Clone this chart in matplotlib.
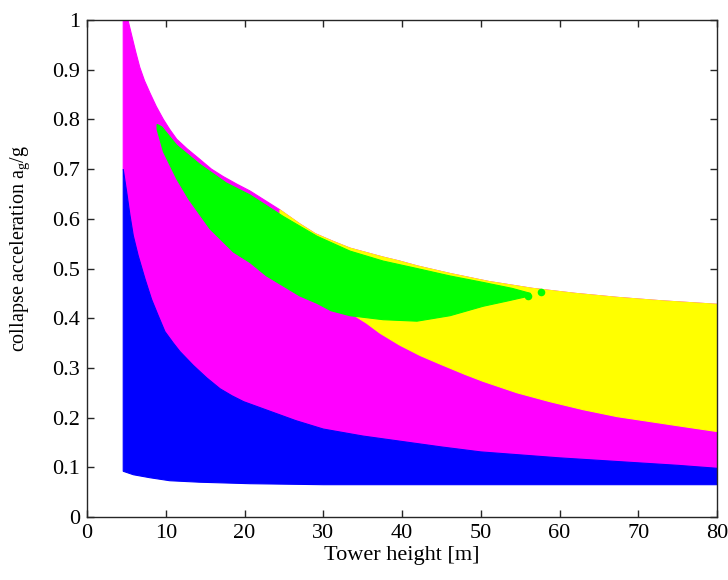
import numpy as np
import matplotlib
matplotlib.use("Agg")
import matplotlib.pyplot as plt

plt.rcParams.update({"font.family": "serif", "font.serif": ["Liberation Serif", "DejaVu Serif"],
    "font.size": 16, "mathtext.fontset": "custom", "mathtext.rm": "Liberation Serif",
    "mathtext.it": "Liberation Serif:italic"})

# outer (upper) envelope of all feasible points
env_x = [4.6, 5.2, 5.66, 6.2, 6.7, 7.3, 8.0, 8.8, 9.7, 10.5, 11.4, 12.7, 14.3, 15.8, 17.3, 19.0, 20.7,
         22.5, 24.5, 27.0, 29.0, 31.2, 33.4, 35.5, 37.6, 39.7, 42.0, 46.1, 51.0, 56.6, 62.0, 67.3, 73.0, 80.0]
env_y = [1.0, 1.0, 0.97, 0.935, 0.905, 0.878, 0.853, 0.826, 0.80, 0.78, 0.76, 0.741, 0.72, 0.70, 0.685, 0.67, 0.656,
         0.638, 0.618, 0.59, 0.57, 0.555, 0.541, 0.532, 0.523, 0.515, 0.505, 0.49, 0.474, 0.46, 0.45, 0.442, 0.435, 0.428]

# blue band (lowest mechanism)
blue_top_x = [4.6, 5.04, 5.46, 5.88, 6.5, 7.37, 8.2, 9.05, 9.9, 10.96, 11.8, 13.5, 15.2, 16.9, 18.4, 19.9,
              23.2, 26.5, 30.0, 35.0, 40.0, 45.0, 50.0, 55.0, 60.0, 65.0, 70.0, 75.0, 80.0]
blue_top_y = [0.70, 0.654, 0.607, 0.566, 0.526, 0.479, 0.438, 0.405, 0.373, 0.350, 0.333, 0.305, 0.280, 0.258, 0.244, 0.232,
              0.213, 0.194, 0.177, 0.163, 0.152, 0.141, 0.131, 0.125, 0.119, 0.114, 0.109, 0.104, 0.098]
blue_bot_x = [4.6, 5.9, 8.0, 10.5, 14.3, 20.7, 30.0, 80.0]
blue_bot_y = [0.092, 0.085, 0.079, 0.073, 0.070, 0.067, 0.065, 0.065]

# yellow band: lower edge (upper edge of magenta for tall towers) and upper edge
yel_bot_x = [24.5, 30.0, 33.5, 35.5, 37.2, 39.7, 42.3, 44.8, 48.0, 50.3, 54.6, 58.8, 63.0, 67.3, 71.5, 75.7, 80.0]
yel_bot_y = [0.55, 0.47, 0.41, 0.39, 0.37, 0.346, 0.325, 0.308, 0.287, 0.273, 0.25, 0.232, 0.216, 0.202, 0.192, 0.182, 0.172]
yel_top_x = [24.5, 27.0, 29.0, 31.2, 33.4, 35.5, 37.6, 39.7, 42.0, 46.1, 51.0, 56.6, 62.0, 67.3, 73.0, 80.0]
yel_top_y = [0.618, 0.59, 0.57, 0.555, 0.541, 0.532, 0.523, 0.515, 0.505, 0.49, 0.474, 0.46, 0.45, 0.442, 0.435, 0.428]

# green island
grn_top_x = [8.9, 9.5, 11.4, 14.3, 17.7, 20.7, 24.9, 29.2, 33.4, 37.6, 41.9, 46.1, 50.3, 54.0, 56.3]
grn_top_y = [0.79, 0.785, 0.748, 0.71, 0.672, 0.648, 0.605, 0.565, 0.535, 0.515, 0.50, 0.485, 0.472, 0.46, 0.45]
grn_bot_x = [8.9, 9.7, 11.4, 12.9, 15.6, 18.6, 20.7, 22.8, 24.9, 27.0, 29.2, 31.0, 33.4, 37.6, 41.9, 46.1, 50.3, 53.5, 56.3]
grn_bot_y = [0.78, 0.735, 0.68, 0.64, 0.58, 0.533, 0.512, 0.485, 0.465, 0.445, 0.43, 0.415, 0.405, 0.397, 0.394, 0.405, 0.424, 0.435, 0.445]
grn_dot_x = [56.0, 57.7]
grn_dot_y = [0.444, 0.452]

def band(ax, xt, yt, xb, yb, col, z):
    ax.fill(np.r_[xt, xb[::-1]], np.r_[yt, yb[::-1]], color=col, lw=0.8, ec=col, zorder=z)

fig = plt.figure(figsize=(7.28, 5.80), dpi=100)
ax = fig.add_axes([87/728, 1-517/580, 630/728, 497/580])

band(ax, env_x, env_y, blue_top_x, blue_top_y, "#ff00ff", 2)
band(ax, yel_top_x, yel_top_y, yel_bot_x, yel_bot_y, "#ffff00", 3)
band(ax, grn_top_x, grn_top_y, grn_bot_x, grn_bot_y, "#00ff00", 4)
ax.scatter(grn_dot_x, grn_dot_y, s=30, color="#00ff00", lw=0, zorder=4)
band(ax, blue_top_x, blue_top_y, blue_bot_x, blue_bot_y, "#0000ff", 5)

ax.set_xlim(0, 80); ax.set_ylim(0, 1)
ax.set_xticks(range(0, 81, 10))
ax.set_yticks(np.arange(0, 1.01, 0.1))
ax.set_yticklabels(["0", "0.1", "0.2", "0.3", "0.4", "0.5", "0.6", "0.7", "0.8", "0.9", "1"])
ax.tick_params(direction="in", top=True, right=True, length=5, width=1, color="#262626", pad=5)
for s in ax.spines.values():
    s.set_color("#262626"); s.set_linewidth(1); s.set_zorder(6)
ax.set_xlabel("Tower height [m]", labelpad=2)
ax.set_ylabel(r"collapse acceleration a$_{\mathrm{g}}$/g", fontsize=14.5)
ax.yaxis.set_label_coords(-0.087, 0.541)
fig.savefig("out.png", dpi=100)
